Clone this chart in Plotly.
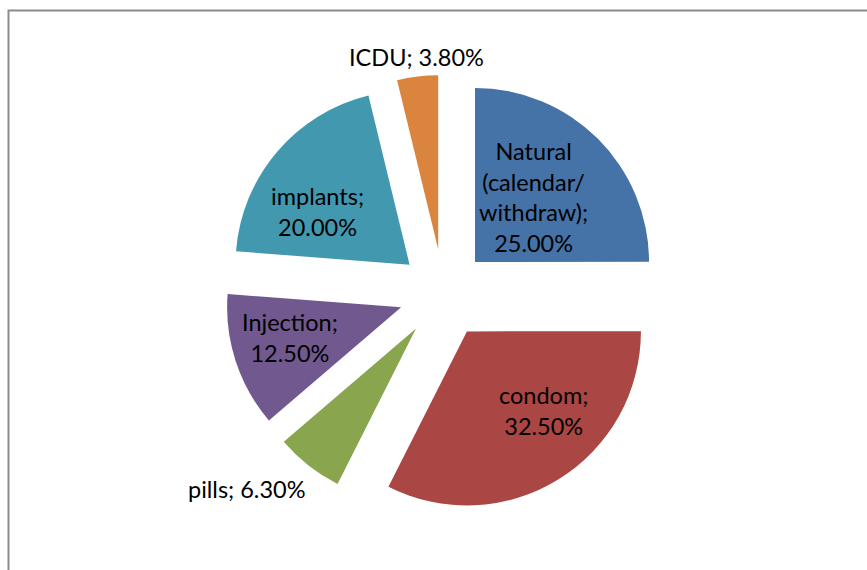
import math
import plotly.graph_objects as go

# ---- data ----
labels = ["Natural (calendar/withdraw)", "condom", "pills", "Injection", "implants", "ICDU"]
label_lines = ["Natural<br>(calendar/<br>withdraw);", "condom;", "pills;", "Injection;", "implants;", "ICDU;"]
values = [25.0, 32.5, 6.3, 12.5, 20.0, 3.8]

# ---- styles ----
colors = ["#4572A7", "#AA4643", "#89A54E", "#71588F", "#4198AF", "#DB843D"]
pull = 0.256
W, H = 867, 570
dom_x = [0.2594, 0.7637]
dom_y = [0.1016, 0.8686]
# label placement: (angle offset in degrees, radial fraction, break line before percent)
label_place = [(-3, 0.50, True), (-12.5, 0.63, True), (8.4, 1.34, False),
               (2.6, 0.66, True), (-10.2, 0.61, True), (0.3, 1.11, False)]
FONT = "Lato, 'Open Sans', sans-serif"

fig = go.Figure()
fig.add_trace(go.Pie(
    labels=labels, values=values, sort=False, direction="clockwise", rotation=0,
    pull=[pull] * len(values), marker=dict(colors=colors, line=dict(width=0)),
    textinfo="none", hoverinfo="label+percent", showlegend=False,
    domain=dict(x=dom_x, y=dom_y),
))

# geometry (same as plotly's pie scaling) to place the labels
cx = W * (dom_x[0] + dom_x[1]) / 2
cy = H * (1 - (dom_y[0] + dom_y[1]) / 2)
box = min(W * (dom_x[1] - dom_x[0]), H * (dom_y[1] - dom_y[0]))
r = box / (2 + 2 * pull)
total = sum(values)
cum = 0.0
annotations = []
for lab, v, (dth, frac, brk) in zip(label_lines, values, label_place):
    mid = (cum + v / 2) / total * 360.0
    cum += v
    a = math.radians(mid)
    ax = cx + pull * r * math.sin(a)
    ay = cy - pull * r * math.cos(a)
    b = math.radians(mid + dth)
    px = ax + frac * r * math.sin(b)
    py = ay - frac * r * math.cos(b)
    pct = f"{v:.2f}%"
    txt = lab + ("<br>" if brk else " ") + pct
    annotations.append(dict(x=px / W, y=1 - py / H, xref="paper", yref="paper",
                            text=txt, showarrow=False, xanchor="center", yanchor="middle",
                            font=dict(family=FONT, size=23.5, color="#000000")))

fig.update_layout(
    width=W, height=H, margin=dict(l=0, r=0, t=0, b=0),
    paper_bgcolor="white", plot_bgcolor="white",
    annotations=annotations,
    shapes=[dict(type="rect", xref="paper", yref="paper",
                 x0=8.5 / W, x1=1.05, y0=-0.05, y1=1 - 10.5 / H,
                 line=dict(color="#8c8c8c", width=2), fillcolor="rgba(0,0,0,0)", layer="below")],
)
fig.write_html("out.html")
